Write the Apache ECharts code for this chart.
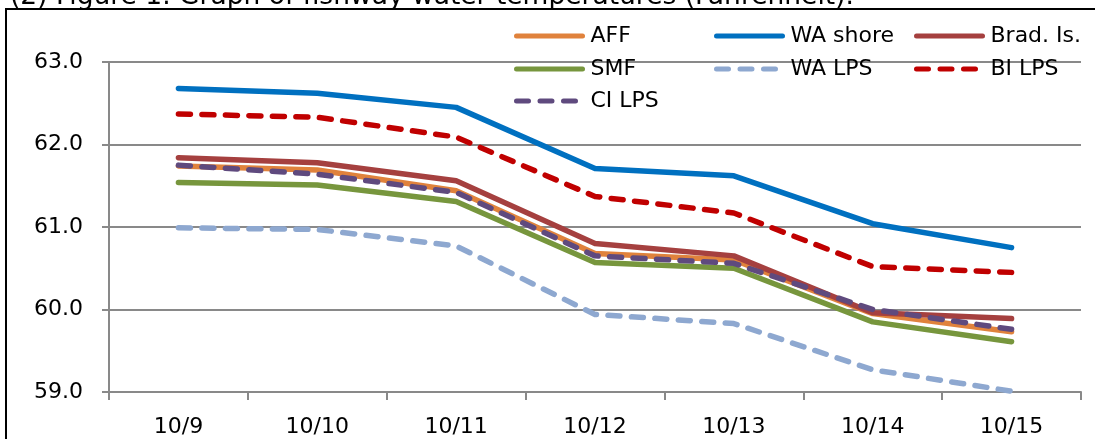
<!DOCTYPE html>
<html>
<head>
<meta charset="utf-8">
<script src="https://cdn.jsdelivr.net/npm/echarts@6/dist/echarts.min.js"></script>
<style>
html,body{margin:0;padding:0;background:#fff;}
#c{width:1095px;height:439px;}
</style>
</head>
<body>
<div id="c"></div>
<script>
const categories = ['10/9','10/10','10/11','10/12','10/13','10/14','10/15'];
const AFF      = [61.74, 61.69, 61.44, 60.68, 60.60, 59.95, 59.73];
const WA_shore = [62.68, 62.62, 62.45, 61.71, 61.62, 61.04, 60.75];
const Brad_Is  = [61.84, 61.78, 61.56, 60.80, 60.65, 59.96, 59.89];
const SMF      = [61.54, 61.51, 61.31, 60.57, 60.50, 59.85, 59.61];
const WA_LPS   = [60.99, 60.97, 60.77, 59.94, 59.83, 59.27, 59.01];
const BI_LPS   = [62.37, 62.33, 62.09, 61.37, 61.17, 60.52, 60.45];
const CI_LPS   = [61.75, 61.64, 61.42, 60.65, 60.56, 60.00, 59.76];
const seriesNames = ['AFF','WA shore','Brad. Is.','SMF','WA LPS','BI LPS','CI LPS'];
const yTicks = [59, 60, 61, 62, 63];

const FONT = "'DejaVu Sans', Verdana, sans-serif";
const dash = [12, 11.5];
const defs = [
  {name: seriesNames[0], data: AFF,      color: '#E0823C', type: 'solid'},
  {name: seriesNames[1], data: WA_shore, color: '#0070C0', type: 'solid'},
  {name: seriesNames[2], data: Brad_Is,  color: '#A5403F', type: 'solid'},
  {name: seriesNames[3], data: SMF,      color: '#77963D', type: 'solid'},
  {name: seriesNames[4], data: WA_LPS,   color: '#8EA8D0', type: dash},
  {name: seriesNames[5], data: BI_LPS,   color: '#C00000', type: dash},
  {name: seriesNames[6], data: CI_LPS,   color: '#5F4A7E', type: dash}
];

const legendPos = [
  [514, 37], [714, 37], [914, 37],
  [514, 70], [714, 70], [914, 70],
  [514, 102]
];

const chart = echarts.init(document.getElementById('c'), null, {renderer: 'canvas'});
const option = {
  animation: false,
  backgroundColor: '#fff',
  graphic: [
    {type: 'rect', shape: {x: 6, y: 9, width: 1200, height: 500}, style: {fill: 'none', stroke: '#000', lineWidth: 2}, z: 100},
    {type: 'text', x: 10, y: 11, style: {text: '(2) Figure 1. Graph of fishway water temperatures (Fahrenheit).', font: '26.5px ' + FONT, fill: '#000', verticalAlign: 'bottom'}, z: 99}
  ],
  legend: defs.map((d, i) => ({
    data: [d.name],
    left: legendPos[i][0],
    top: legendPos[i][1] - 12,
    itemWidth: 66,
    itemHeight: 12,
    padding: 0,
    selectedMode: false,
    itemStyle: {color: 'rgba(0,0,0,0)', borderColor: 'rgba(0,0,0,0)', borderWidth: 0, opacity: 0},
    lineStyle: {width: 5, cap: 'round', type: 'inherit', color: 'inherit'},
    textStyle: {fontFamily: FONT, fontSize: 22, color: '#000', padding: [0,0,0,3]}
  })),
  grid: {left: 109, right: 14, top: 62, bottom: 47},
  xAxis: {
    type: 'category',
    data: categories,
    boundaryGap: true,
    axisLine: {lineStyle: {color: '#898989', width: 2}},
    axisTick: {show: true, length: 8, interval: 0, lineStyle: {color: '#898989', width: 2}},
    axisLabel: {fontFamily: FONT, fontSize: 22, color: '#000', margin: 24, interval: 0}
  },
  yAxis: {
    type: 'value',
    min: yTicks[0],
    max: yTicks[yTicks.length - 1],
    interval: 1,
    axisLine: {show: true, lineStyle: {color: '#898989', width: 2}},
    axisTick: {show: true, length: 7, lineStyle: {color: '#898989', width: 2}},
    splitLine: {show: true, lineStyle: {color: '#898989', width: 2}},
    axisLabel: {fontFamily: FONT, fontSize: 22, color: '#000', margin: 26, formatter: v => v.toFixed(1)}
  },
  series: defs.map(d => ({
    name: d.name,
    type: 'line',
    data: d.data,
    symbol: 'none',
    showSymbol: false,
    color: d.color,
    lineStyle: {color: d.color, width: 5.5, type: d.type, cap: 'round', join: 'round'},
    emphasis: {disabled: true}
  }))
};
chart.setOption(option);
</script>
</body>
</html>
